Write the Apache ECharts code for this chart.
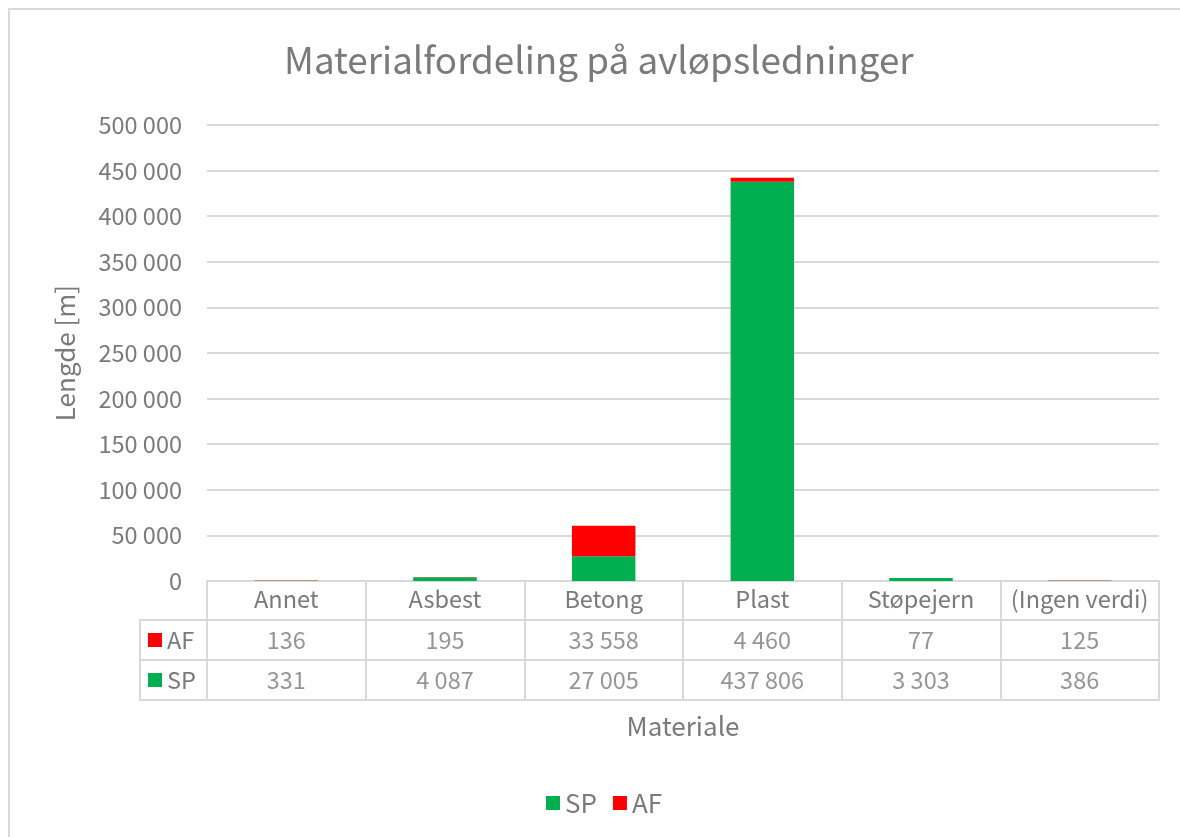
<!DOCTYPE html>
<html>
<head>
<meta charset="utf-8">
<script src="https://cdn.jsdelivr.net/npm/echarts@6/dist/echarts.min.js"></script>
<style>
html,body{margin:0;padding:0;background:#fff;}
#c{width:1180px;height:837px;}
</style>
</head>
<body>
<div id="c"></div>
<script>
const categories = ['Annet', 'Asbest', 'Betong', 'Plast', 'Støpejern', '(Ingen verdi)'];
const spValues = [331, 4087, 27005, 437806, 3303, 386];
const afValues = [136, 195, 33558, 4460, 77, 125];
const tableRows = ['SP', 'AF'];

const FONT = '"Noto Sans CJK JP", "Noto Sans", sans-serif';
const TXT = '#7a7a7a';
const LINE = '#d9d9d9';
const GREEN = '#00b050';
const RED = '#ff0000';
const FS = 23.5;

function fmt(v) {
  return String(v).replace(/\B(?=(\d{3})+(?!\d))/g, ' ');
}

const tableData = [];
categories.forEach((c, i) => {
  tableData.push([i, 0, spValues[i]]);
  tableData.push([i, 1, afValues[i]]);
});

const chart = echarts.init(document.getElementById('c'), null, {renderer: 'canvas'});
chart.setOption({
  backgroundColor: '#fff',
  animation: false,
  textStyle: {fontFamily: FONT},
  title: {
    text: 'Materialfordeling på avløpsledninger',
    left: 279,
    top: 37,
    textStyle: {fontFamily: FONT, fontSize: 36.8, fontWeight: 'normal', color: TXT}
  },
  legend: {
    data: ['SP', 'AF'],
    bottom: 16,
    left: 541,
    icon: 'rect',
    itemWidth: 14,
    itemHeight: 14,
    itemGap: 16,
    textStyle: {fontFamily: FONT, fontSize: 26, color: TXT}
  },
  graphic: [{
    type: 'rect',
    shape: {x: 9, y: 9, width: 1300, height: 1000},
    style: {fill: 'none', stroke: '#d9d9d9', lineWidth: 2},
    silent: true
  }],
  grid: [
    {left: 207, right: 21, top: 125, bottom: 256},
    {left: 207, right: 21, top: 620, height: 80, show: false},
    {left: 140, right: 21, top: 620, height: 80, show: true, borderColor: LINE, borderWidth: 2, backgroundColor: 'transparent'}
  ],
  xAxis: [
    {
      gridIndex: 0,
      type: 'category',
      data: categories,
      axisLine: {lineStyle: {color: LINE, width: 2}},
      axisTick: {show: true, length: 119, lineStyle: {color: LINE, width: 2}},
      axisLabel: {fontFamily: FONT, fontSize: FS, color: TXT, margin: 6, interval: 0},
      name: 'Materiale',
      nameLocation: 'middle',
      nameGap: 145,
      nameTextStyle: {fontFamily: FONT, fontSize: 26, color: TXT, verticalAlign: 'middle'}
    },
    {gridIndex: 1, type: 'category', data: categories, show: false},
    {gridIndex: 2, type: 'category', data: categories, show: false}
  ],
  yAxis: [
    {
      gridIndex: 0,
      type: 'value',
      min: 0,
      max: 500000,
      interval: 50000,
      axisLine: {show: false},
      axisTick: {show: false},
      splitLine: {lineStyle: {color: LINE, width: 2}},
      axisLabel: {fontFamily: FONT, fontSize: FS, color: TXT, margin: 25, formatter: v => fmt(v)},
      name: 'Lengde [m]',
      nameLocation: 'middle',
      nameGap: 142,
      nameRotate: 90,
      nameTextStyle: {fontFamily: FONT, fontSize: 26, color: TXT, verticalAlign: 'middle'}
    },
    {
      gridIndex: 1,
      type: 'category',
      data: tableRows,
      show: false
    },
    {
      gridIndex: 2,
      type: 'category',
      data: tableRows,
      axisLine: {show: false},
      axisTick: {show: false},
      splitLine: {show: true, lineStyle: {color: LINE, width: 2}},
      axisLabel: {
        inside: true,
        margin: 8,
        align: 'left',
        fontFamily: FONT,
        fontSize: FS,
        color: TXT,
        formatter: v => '{' + v + '|}{t|' + v + '}',
        rich: {
          SP: {width: 14, height: 14, backgroundColor: GREEN},
          AF: {width: 14, height: 14, backgroundColor: RED},
          t: {fontFamily: FONT, fontSize: FS, color: TXT, padding: [0, 0, 0, 5]}
        }
      }
    }
  ],
  series: [
    {
      name: 'SP',
      type: 'bar',
      stack: 'total',
      xAxisIndex: 0,
      yAxisIndex: 0,
      data: spValues,
      barWidth: '40%',
      itemStyle: {color: GREEN}
    },
    {
      name: 'AF',
      type: 'bar',
      stack: 'total',
      xAxisIndex: 0,
      yAxisIndex: 0,
      data: afValues,
      barWidth: '40%',
      itemStyle: {color: RED}
    },
    {
      name: 'table',
      type: 'scatter',
      xAxisIndex: 1,
      yAxisIndex: 1,
      symbolSize: 0,
      silent: true,
      data: tableData,
      label: {
        show: true,
        position: 'inside',
        fontFamily: FONT,
        fontSize: FS,
        color: TXT,
        formatter: p => fmt(p.value[2])
      }
    }
  ]
});
</script>
</body>
</html>
